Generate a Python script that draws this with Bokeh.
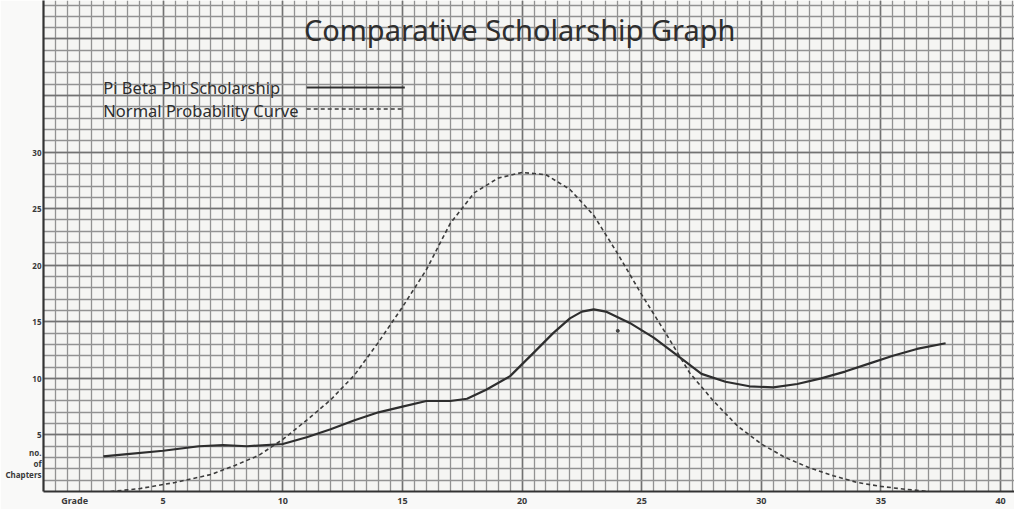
from bokeh.plotting import figure
from bokeh.models import Range1d, SingleIntervalTicker, FixedTicker
from bokeh.embed import file_html
from bokeh.resources import INLINE
from bokeh.models import Label

# ---------------- data ----------------
title_text = "Comparative Scholarship Graph"
series_names = ["Pi Beta Phi Scholarship", "Normal Probability Curve"]
x_axis_title = "Grade"
y_axis_title = "no.\nof\nChapters"

x_tick_values = [5, 10, 15, 20, 25, 30, 35, 40]
y_tick_values = [5, 10, 15, 20, 25, 30]

pbp_grade = [2.5, 3.5, 5, 6.5, 7.5, 8.5, 10, 11, 12, 13, 14, 15, 16, 17, 17.7,
             18.5, 19.5, 20.5, 21.3, 22, 22.5, 23.0, 23.5, 24.5, 25.5, 26.5,
             27.5, 28.5, 29.5, 30.5, 31.5, 32.5, 33.5, 34.5, 35.5, 36.5, 37.7]
pbp_chapters = [3.1, 3.3, 3.6, 4.0, 4.1, 4.0, 4.2, 4.8, 5.5, 6.3, 7.0, 7.5, 8.0,
                8.0, 8.2, 9.0, 10.2, 12.3, 14.0, 15.3, 15.9, 16.1, 15.9, 14.9,
                13.6, 12.0, 10.4, 9.7, 9.3, 9.2, 9.5, 10.0, 10.6, 11.3, 12.0,
                12.6, 13.1]

normal_grade = [2.8, 4, 5.5, 7, 8, 9, 10, 11, 12, 13, 14, 15, 16, 17, 18, 19,
                20, 21, 22, 23, 24, 25, 26, 27, 28, 29, 30, 31, 32, 33, 34, 35,
                36, 37]
normal_chapters = [0.0, 0.25, 0.8, 1.5, 2.3, 3.2, 4.6, 6.3, 8.1, 10.3, 13.2,
                   16.3, 19.6, 23.7, 26.4, 27.7, 28.2, 28.0, 26.7, 24.4, 21.0,
                   17.4, 14.0, 10.5, 8.0, 5.8, 4.2, 3.0, 2.1, 1.4, 0.8, 0.45,
                   0.2, 0.0]

ink_dot_grade = [24.0]
ink_dot_chapters = [14.2]

# ---------------- figure ----------------
ink = "#2e2e2e"
x_title_pos = 1.3     # where the axis titles sit along their axes
y_title_pos = 2.5

p = figure(width=1014, height=509, output_backend="svg", toolbar_location=None,
           x_range=Range1d(0, 40.58), y_range=Range1d(0, 43.4),
           min_border_left=43, min_border_right=0, min_border_top=0,
           min_border_bottom=15)
p.background_fill_color = "#f5f5f3"
p.border_fill_color = "#f9f9f8"
p.outline_line_color = None

# graph-paper grid
p.xgrid.ticker = SingleIntervalTicker(interval=5, num_minor_ticks=10)
p.ygrid.ticker = SingleIntervalTicker(interval=5, num_minor_ticks=5)
for g in (p.xgrid, p.ygrid):
    g.grid_line_color = "#727272"
    g.grid_line_width = 1.5
    g.minor_grid_line_color = "#929292"
    g.minor_grid_line_width = 1.3

# axes (axis titles are written as extra tick labels)
p.xaxis.ticker = FixedTicker(ticks=[x_title_pos] + x_tick_values)
p.xaxis.major_label_overrides = {x_title_pos: x_axis_title}
p.yaxis.ticker = FixedTicker(ticks=[y_title_pos] + y_tick_values)
p.yaxis.major_label_overrides = {y_title_pos: y_axis_title}
for ax in (p.xaxis, p.yaxis):
    ax.axis_line_color = "#333333"
    ax.axis_line_width = 2.2
    ax.major_tick_in = 0
    ax.major_tick_out = 0
    ax.minor_tick_in = 0
    ax.minor_tick_out = 0
    ax.major_label_text_font = "Noto Sans"
    ax.major_label_text_font_style = "bold"
    ax.major_label_text_color = "#3a3a3a"
    ax.major_label_standoff = 2
p.xaxis.major_label_text_font_size = "9px"
p.yaxis.major_label_text_font_size = "8px"
p.yaxis.major_label_text_line_height = 1.0

# curves
p.line(pbp_grade, pbp_chapters, line_color=ink, line_width=2.2,
       line_join="round")
p.line(normal_grade, normal_chapters, line_color="#3c3c3c", line_width=1.6,
       line_dash="4 3")
p.scatter(ink_dot_grade, ink_dot_chapters, size=3, color="#444444")

# title
p.add_layout(Label(x=19.9, y=40.8, text=title_text, text_font="Noto Sans",
                   text_font_size="29px", text_color=ink, text_align="center",
                   text_baseline="middle"))

# legend (text left, sample line right)
leg_y = [35.7, 33.7]
for name, yy in zip(series_names, leg_y):
    p.add_layout(Label(x=2.5, y=yy, text=name, text_font="Noto Sans",
                       text_font_size="16.5px", text_color=ink,
                       text_baseline="middle"))
p.segment(x0=[11.0], y0=[leg_y[0]], x1=[15.1], y1=[leg_y[0]],
          line_color=ink, line_width=2)
p.segment(x0=[11.0], y0=[leg_y[1] + 0.1], x1=[15.1], y1=[leg_y[1] + 0.1],
          line_color="#3c3c3c", line_width=1.5, line_dash="4 3")

open("out.html", "w").write(file_html(p, INLINE))
